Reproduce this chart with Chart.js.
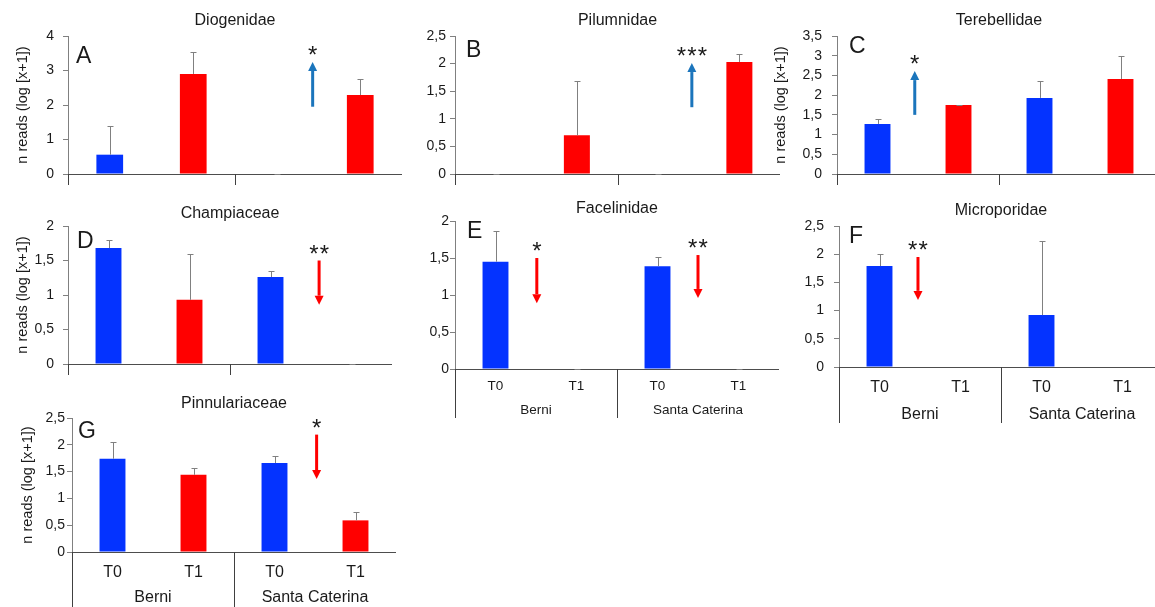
<!DOCTYPE html>
<html>
<head>
<meta charset="utf-8">
<script src="https://cdn.jsdelivr.net/npm/chart.js@4.4.1/dist/chart.umd.min.js"></script>
<style>
  html, body { margin: 0; padding: 0; background: #fff; width: 1155px; height: 607px; overflow: hidden; position: relative; }
  canvas { position: absolute; }
</style>
</head>
<body>
<script>
// categories shared by all panels
const categories = ["T0", "T1", "T0", "T1"];
const groups = ["Berni", "Santa Caterina"];

// means and upper error bars (log[x+1])
const diogenidaeMean = [0.56, 2.90, 0, 2.29];
const diogenidaeErr = [0.84, 0.64, 0, 0.46];
const pilumnidaeMean = [0, 0.70, 0, 2.03];
const pilumnidaeErr = [0, 0.99, 0, 0.14];
const terebellidaeMean = [1.27, 1.75, 1.93, 2.41];
const terebellidaeErr = [0.12, 0.01, 0.43, 0.58];
const champiaceaeMean = [1.68, 0.93, 1.26, 0];
const champiaceaeErr = [0.12, 0.66, 0.09, 0];
const facelinidaeMean = [1.45, 0, 1.39, 0];
const facelinidaeErr = [0.42, 0, 0.12, 0];
const microporidaeMean = [1.79, 0, 0.92, 0];
const microporidaeErr = [0.22, null, 1.31, null];
const pinnulariaceaeMean = [1.74, 1.44, 1.66, 0.59];
const pinnulariaceaeErr = [0.31, 0.12, 0.13, 0.16];

// significance arrows: [category position, from, to, stars]
const diogenidaeArrows = [[2.43, 1.95, 3.25, "*"]];
const pilumnidaeArrows = [[2.415, 1.21, 2.01, "***"]];
const terebellidaeArrows = [[0.46, 1.50, 2.61, "*"]];
const champiaceaeArrows = [[2.6, 1.50, 0.86, "**"]];
const facelinidaeArrows = [[0.51, 1.50, 0.89, "*"], [2.5, 1.54, 0.96, "**"]];
const microporidaeArrows = [[0.475, 1.95, 1.19, "**"]];
const pinnulariaceaeArrows = [[2.52, 2.19, 1.36, "*"]];

const BLUE = "#0433ff", RED = "#ff0000", ARROW_BLUE = "#1b75bc", TXT = "#1a1a1a";
const barColors = [BLUE, RED, BLUE, RED];
const FONT = "'Liberation Sans', Arial, sans-serif";
Chart.defaults.font.family = FONT;

const panels = [
  { title: "Diogenidae", letter: "A", mean: diogenidaeMean, err: diogenidaeErr, arrows: diogenidaeArrows,
    max: 4, step: 1, box: [68, 36, 402, 174], yTitle: 14, tickPad: 9, titleGap: 11, letterAt: [8, 27], xh: 22, sep: 11 },
  { title: "Pilumnidae", letter: "B", mean: pilumnidaeMean, err: pilumnidaeErr, arrows: pilumnidaeArrows,
    max: 2.5, step: 0.5, box: [455, 36, 780, 174], yTitle: null, tickPad: 4, titleGap: 11, letterAt: [11, 21], xh: 22, sep: 11 },
  { title: "Terebellidae", letter: "C", mean: terebellidaeMean, err: terebellidaeErr, arrows: terebellidaeArrows,
    max: 3.5, step: 0.5, box: [837, 36, 1161, 174], yTitle: 3, tickPad: 10, titleGap: 11, letterAt: [12, 17], xh: 22, sep: 11 },
  { title: "Champiaceae", letter: "D", mean: champiaceaeMean, err: champiaceaeErr, arrows: champiaceaeArrows,
    max: 2, step: 0.5, box: [68, 226, 392, 364], yTitle: 14, tickPad: 9, titleGap: 8, letterAt: [9, 22], xh: 22, sep: 11 },
  { title: "Facelinidae", letter: "E", mean: facelinidaeMean, err: facelinidaeErr, arrows: facelinidaeArrows,
    max: 2, step: 0.5, box: [455, 221, 779, 369], yTitle: null, tickPad: 1, titleGap: 8, letterAt: [12, 17], xh: 52, sep: 49,
    xFont: 13.5, xPad: 9, groupGap: 41 },
  { title: "Microporidae", letter: "F", mean: microporidaeMean, err: microporidaeErr, arrows: microporidaeArrows,
    max: 2.5, step: 0.5, box: [839, 226, 1163, 367], yTitle: null, tickPad: 10, titleGap: 11, letterAt: [10, 17], xh: 60, sep: 56,
    xFont: 16, xPad: 11, groupGap: 48 },
  { title: "Pinnulariaceae", letter: "G", mean: pinnulariaceaeMean, err: pinnulariaceaeErr, arrows: pinnulariaceaeArrows,
    max: 2.5, step: 0.5, box: [72, 418, 396, 552], yTitle: 15, tickPad: 2, titleGap: 10, letterAt: [6, 20], xh: 60, sep: 60,
    xFont: 16, xPad: 11, groupGap: 46 }
];

const decorations = {
  id: "decorations",
  afterDatasetsDraw(chart, args, o) {
    const p = o.panel;
    const ctx = chart.ctx, xs = chart.scales.x, ys = chart.scales.y, a = chart.chartArea;
    const x0 = xs.getPixelForValue(0);
    const step = xs.getPixelForValue(1) - x0;
    const posX = k => x0 + step * k;
    ctx.save();

    // error bars (upper only)
    ctx.strokeStyle = "#808080";
    ctx.lineWidth = 1;
    p.mean.forEach((m, i) => {
      const e = p.err[i];
      if (e === null) return;
      const x = Math.round(posX(i)) + 0.5;
      const yb = ys.getPixelForValue(m);
      const yt = Math.round(ys.getPixelForValue(m + e)) + 0.5;
      ctx.beginPath();
      ctx.moveTo(x, yb); ctx.lineTo(x, yt);
      ctx.moveTo(x - 3, yt); ctx.lineTo(x + 3, yt);
      ctx.stroke();
    });

    // group separators below the axis
    ctx.strokeStyle = "#404040";
    const mid = (posX(1) + posX(2)) / 2;
    [a.left, mid, a.right].forEach(x => {
      x = Math.round(x) + 0.5;
      ctx.beginPath();
      ctx.moveTo(x, a.bottom); ctx.lineTo(x, a.bottom + p.sep);
      ctx.stroke();
    });

    // group labels
    if (p.xFont) {
      ctx.fillStyle = TXT;
      ctx.font = p.xFont + "px " + FONT;
      ctx.textAlign = "center";
      ctx.textBaseline = "middle";
      ctx.fillText(groups[0], (a.left + mid) / 2, a.bottom + p.groupGap);
      ctx.fillText(groups[1], (mid + a.right) / 2, a.bottom + p.groupGap);
    }

    // arrows and stars
    p.arrows.forEach(([k, from, to, stars]) => {
      const x = posX(k);
      const yf = ys.getPixelForValue(from), yt = ys.getPixelForValue(to);
      const up = to > from;
      const col = up ? ARROW_BLUE : RED;
      const d = up ? 9 : -9;
      ctx.strokeStyle = col;
      ctx.fillStyle = col;
      ctx.lineWidth = 3;
      ctx.beginPath();
      ctx.moveTo(x, yf); ctx.lineTo(x, yt + d);
      ctx.stroke();
      ctx.beginPath();
      ctx.moveTo(x - 4.5, yt + d); ctx.lineTo(x + 4.5, yt + d); ctx.lineTo(x, yt);
      ctx.closePath();
      ctx.fill();

      const top = Math.min(yf, yt);
      ctx.fillStyle = TXT;
      ctx.font = "24px " + FONT;
      ctx.textAlign = "center";
      ctx.textBaseline = "alphabetic";
      for (let s = 0; s < stars.length; s++) {
        ctx.fillText("*", x + (s - (stars.length - 1) / 2) * 10.5, top + 1);
      }
    });

    // title and panel letter
    ctx.fillStyle = TXT;
    ctx.textBaseline = "alphabetic";
    ctx.textAlign = "center";
    ctx.font = "16px " + FONT;
    ctx.fillText(p.title, (a.left + a.right) / 2, a.top - p.titleGap);
    ctx.textAlign = "left";
    ctx.font = "23px " + FONT;
    ctx.fillText(p.letter, a.left + p.letterAt[0], a.top + p.letterAt[1]);
    ctx.restore();
  }
};

panels.forEach(p => {
  const [bx0, by0, bx1, by1] = p.box;
  const yw = 68, padTop = 36;
  const left = bx0 - yw, top = by0 - padTop;
  const cv = document.createElement("canvas");
  cv.width = bx1 - left;
  cv.height = by1 - top + p.xh;
  cv.style.left = left + "px";
  cv.style.top = top + "px";
  document.body.appendChild(cv);

  new Chart(cv.getContext("2d"), {
    type: "bar",
    data: {
      labels: categories,
      datasets: [{
        data: p.mean,
        backgroundColor: barColors,
        categoryPercentage: 1,
        barPercentage: 0.32
      }]
    },
    options: {
      responsive: false,
      animation: false,
      devicePixelRatio: 1,
      layout: { padding: { top: padTop, left: 0, right: 0, bottom: 0 } },
      plugins: {
        legend: { display: false },
        tooltip: { enabled: false },
        decorations: { panel: p }
      },
      scales: {
        x: {
          grid: { display: false, drawTicks: false },
          border: { display: true, color: "#4d4d4d" },
          ticks: {
            display: !!p.xFont,
            color: TXT,
            font: { size: p.xFont || 12 },
            padding: p.xPad || 0,
            maxRotation: 0
          },
          afterFit: s => { s.height = p.xh; }
        },
        y: {
          min: 0,
          max: p.max,
          ticks: {
            stepSize: p.step,
            autoSkip: false,
            color: TXT,
            font: { size: 14 },
            padding: p.tickPad,
            callback: v => String(v).replace(".", ",")
          },
          grid: { drawOnChartArea: false, tickLength: 5, color: "#808080" },
          border: { color: "#808080" },
          title: {
            display: p.yTitle !== null,
            text: "n reads (log [x+1])",
            color: TXT,
            font: { size: 14.5 },
            padding: { top: p.yTitle || 0, bottom: 0 }
          },
          afterFit: s => { s.width = yw; }
        }
      }
    },
    plugins: [decorations]
  });
});
</script>
</body>
</html>
